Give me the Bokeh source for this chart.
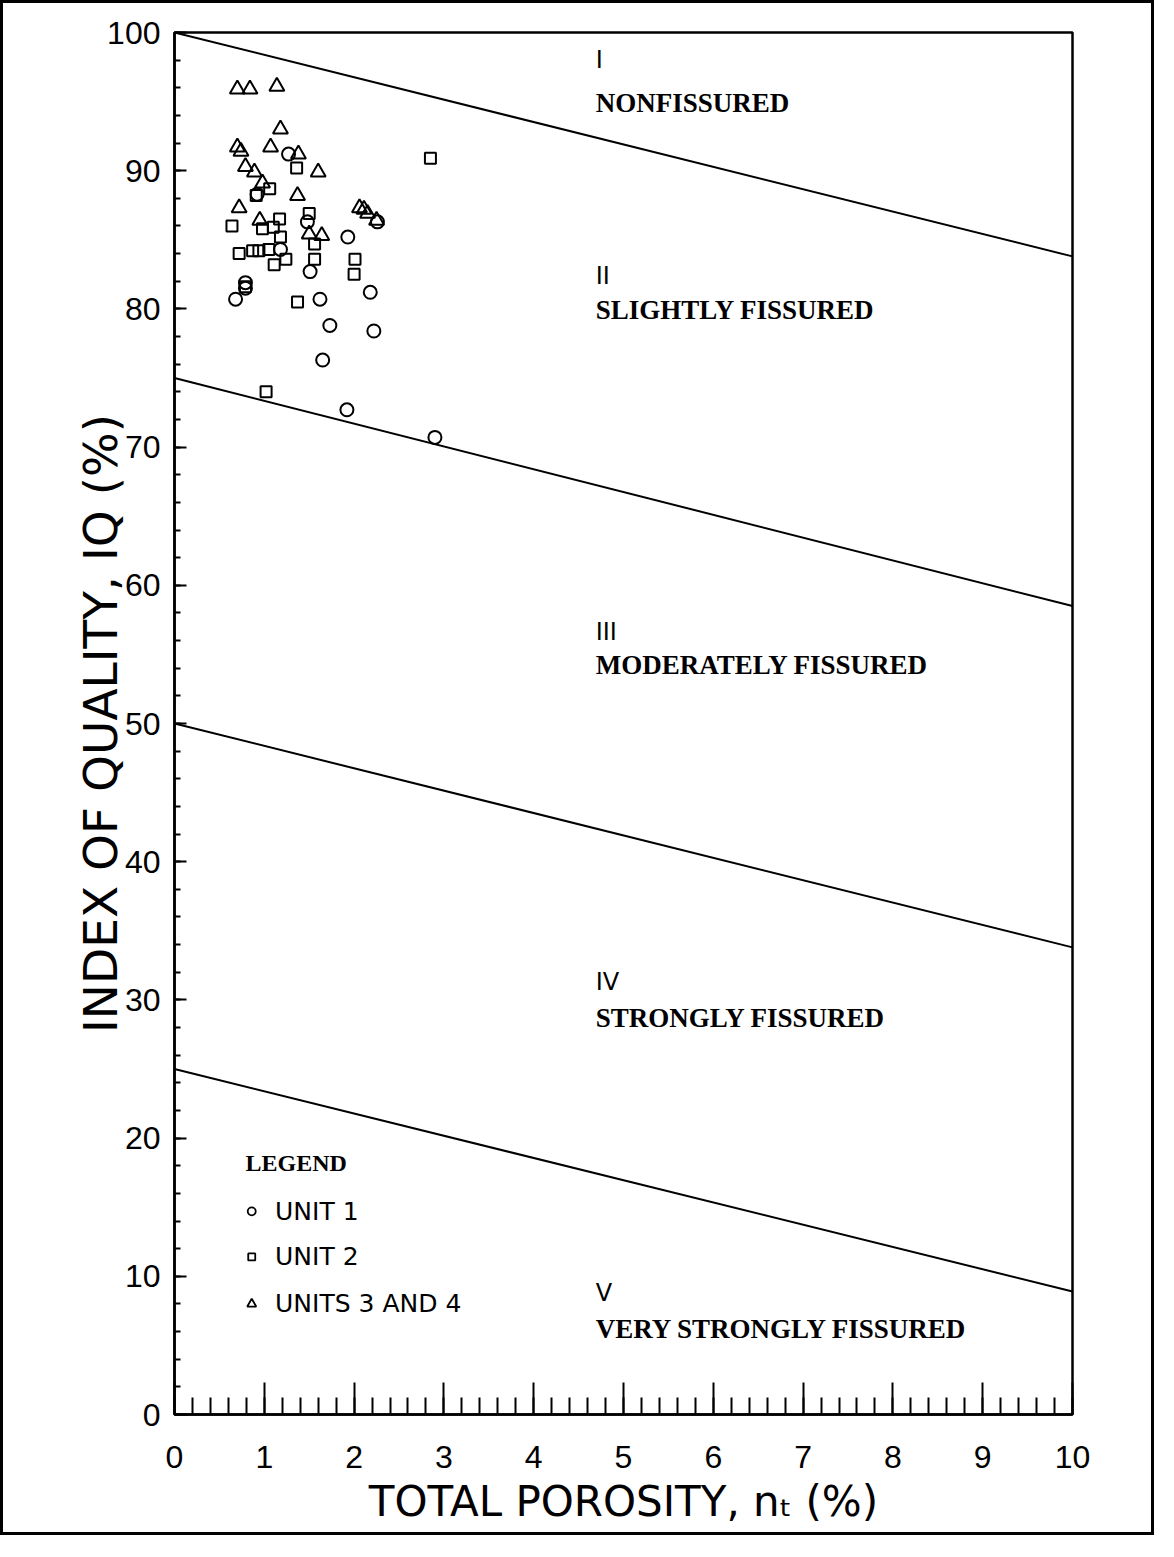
from bokeh.plotting import figure
from bokeh.models import Range1d, SingleIntervalTicker, ColumnDataSource
from bokeh.core.properties import value
from bokeh.embed import file_html
from bokeh.resources import INLINE

# ---------------- data ----------------
unit1_x = [1.27, 0.92, 1.48, 1.93, 2.26, 1.18, 1.51, 0.79, 0.79, 0.68, 2.18, 1.62, 1.73, 2.22, 1.65, 1.92, 2.90]
unit1_y = [91.2, 88.3, 86.3, 85.2, 86.3, 84.3, 82.7, 81.9, 81.5, 80.7, 81.2, 80.7, 78.8, 78.4, 76.3, 72.7, 70.7]

unit2_x = [2.85, 1.36, 1.06, 0.91, 0.64, 1.17, 1.50, 0.98, 1.10, 1.18, 1.56, 0.72, 0.87, 0.94, 1.05,
           1.24, 1.11, 1.56, 2.01, 2.00, 0.79, 1.37, 1.02]
unit2_y = [90.9, 90.2, 88.7, 88.2, 86.0, 86.5, 86.9, 85.8, 85.9, 85.2, 84.7, 84.0, 84.2, 84.2, 84.3,
           83.6, 83.2, 83.6, 83.6, 82.5, 81.6, 80.5, 74.0]

unit34_x = [0.70, 0.84, 1.14, 1.18, 0.70, 0.74, 1.07, 1.38, 0.79, 0.89, 0.98, 1.60, 1.37, 0.72, 0.95,
            2.06, 2.11, 2.15, 1.50, 1.64, 2.25]
unit34_y = [95.9, 95.9, 96.1, 93.0, 91.7, 91.4, 91.7, 91.2, 90.3, 89.9, 89.1, 89.9, 88.2, 87.3, 86.4,
            87.3, 87.2, 86.9, 85.4, 85.3, 86.4]

# class boundary lines: IQ at n=0 and at n=10
boundary_start = [100.0, 75.0, 50.0, 25.0]
boundary_end = [83.8, 58.5, 33.8, 8.9]

class_numerals = ["I", "II", "III", "IV", "V"]
class_names = ["NONFISSURED", "SLIGHTLY FISSURED", "MODERATELY FISSURED",
               "STRONGLY FISSURED", "VERY STRONGLY FISSURED"]
numeral_y = [98.0, 82.4, 56.6, 31.3, 8.8]
name_y = [94.9, 79.9, 54.2, 28.7, 6.2]
label_x = 4.69

legend_title = "LEGEND"
legend_labels = ["UNIT  1", "UNIT  2", "UNITS 3 AND 4"]
legend_y = [14.7, 11.4, 8.0]

x_label = "TOTAL POROSITY, nₜ (%)"
y_label = "INDEX OF QUALITY, IQ (%)"

# ---------------- figure ----------------
p = figure(width=1154, height=1535,
           x_range=Range1d(0, 10), y_range=Range1d(0, 100),
           min_border_left=171, min_border_right=85, min_border_top=29, min_border_bottom=124,
           output_backend="svg", toolbar_location=None)
p.styles = {"border": "3px solid black"}

p.background_fill_color = "white"
p.border_fill_color = "white"
p.xgrid.visible = False
p.ygrid.visible = False
p.outline_line_color = "black"
p.outline_line_width = 2.5

xt = SingleIntervalTicker(interval=1, num_minor_ticks=5)
yt = SingleIntervalTicker(interval=10, num_minor_ticks=5)
p.xaxis.ticker = xt
p.yaxis.ticker = yt

for ax in (p.xaxis[0], p.yaxis[0]):
    ax.axis_line_width = 2.5
    ax.axis_line_color = "black"
    ax.major_tick_line_width = 2
    ax.minor_tick_line_width = 2
    ax.major_tick_out = 0
    ax.minor_tick_out = 0
    ax.major_label_text_font = "Liberation Sans"
    ax.major_label_text_font_size = "32px"
    ax.major_label_text_color = "black"
    ax.axis_label_text_font = "DejaVu Sans"
    ax.axis_label_text_font_style = "normal"
    ax.axis_label_text_color = "black"

p.xaxis.major_tick_in = 32
p.xaxis.minor_tick_in = 17
p.xaxis.major_label_standoff = 31
p.xaxis.axis_label = x_label
p.xaxis.axis_label_text_font_size = "42px"
p.xaxis.axis_label_standoff = 6

p.yaxis.major_tick_in = 12
p.yaxis.minor_tick_in = 6
p.yaxis.major_label_standoff = 14
p.yaxis.axis_label = y_label
p.yaxis.axis_label_text_font_size = "47px"
p.yaxis.axis_label_standoff = -24

# boundary lines
bsrc = ColumnDataSource(dict(x0=[0] * len(boundary_start), x1=[10] * len(boundary_start),
                             y0=boundary_start, y1=boundary_end))
p.segment(x0="x0", y0="y0", x1="x1", y1="y1", source=bsrc, line_color="black", line_width=2)

# data points
p.scatter(unit1_x, unit1_y, marker="circle", size=13, fill_color=None,
          line_color="black", line_width=2)
p.scatter(unit2_x, unit2_y, marker="square", size=11, fill_color=None,
          line_color="black", line_width=2)
p.scatter(unit34_x, unit34_y, marker="triangle", size=15, fill_color=None,
          line_color="black", line_width=2)

# class labels
p.text(x=[label_x] * len(class_numerals), y=numeral_y, text=class_numerals,
       text_font=value("DejaVu Sans"), text_font_size="24px", text_baseline="middle",
       text_align="left", text_color="black")
p.text(x=[label_x] * len(class_names), y=name_y, text=class_names,
       text_font=value("Liberation Serif"), text_font_style="bold", text_font_size="27px",
       text_baseline="middle", text_align="left", text_color="black")

# legend
p.text(x=[0.79], y=[18.2], text=[legend_title],
       text_font=value("Liberation Serif"), text_font_style="bold", text_font_size="24px",
       text_baseline="middle", text_align="left", text_color="black")
p.scatter([0.86], [legend_y[0]], marker="circle", size=8, fill_color=None,
          line_color="black", line_width=1.8)
p.scatter([0.86], [legend_y[1]], marker="square", size=7, fill_color=None,
          line_color="black", line_width=1.8)
p.scatter([0.86], [legend_y[2]], marker="triangle", size=9, fill_color=None,
          line_color="black", line_width=1.8)
p.text(x=[1.12] * len(legend_labels), y=legend_y, text=legend_labels,
       text_font=value("DejaVu Sans"), text_font_size="25px",
       text_baseline="middle", text_align="left", text_color="black")

open("out.html", "w").write(file_html(p, INLINE))
